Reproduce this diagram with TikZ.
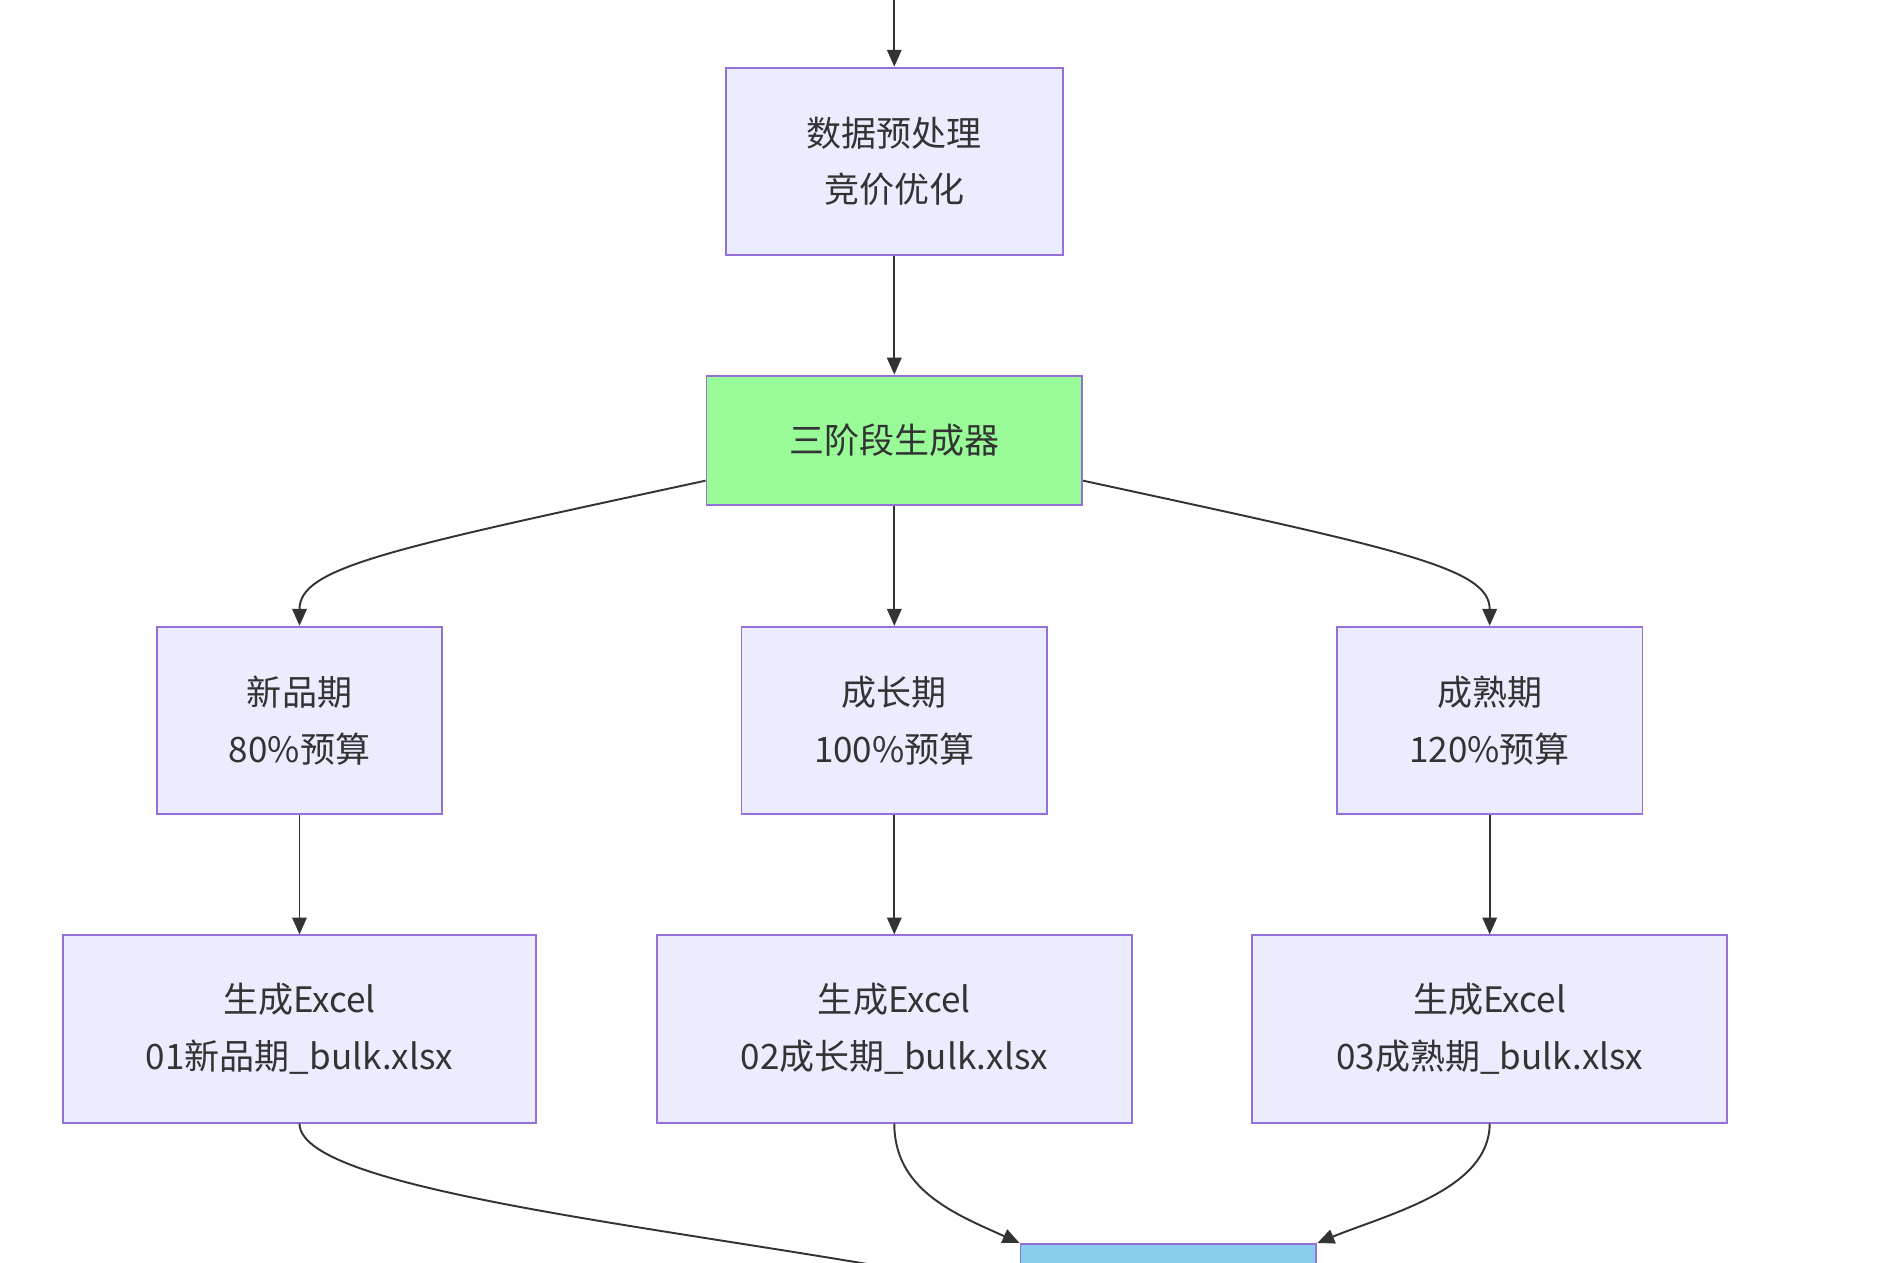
\documentclass[tikz,border=0pt]{standalone}
\usepackage{fontspec}
\newfontfamily\cjk{Noto Sans CJK SC}
\usetikzlibrary{arrows.meta}
\definecolor{nfill}{HTML}{ECECFF}
\definecolor{nstroke}{HTML}{9370DB}
\definecolor{gfill}{HTML}{98FB98}
\definecolor{bfill}{HTML}{87CEEB}
\definecolor{lc}{HTML}{333333}
\begin{document}
\begin{tikzpicture}[x=1pt,y=-1pt,
  box/.style={draw=nstroke,fill=nfill,line width=1.6pt,inner sep=0pt,align=center,
    font=\cjk\fontsize{29}{47}\selectfont,text=lc},
  conn/.style={draw=lc,line width=1.6pt,-{Triangle[length=14pt,width=12pt]}}]
\useasboundingbox (0,0) rectangle (1560,1045);
\clip (0,0) rectangle (1560,1045);
\node[box,minimum width=279pt,minimum height=155pt] (pre) at (740.5,133.5) {数据预处理\\竞价优化};
\node[box,fill=gfill,minimum width=311pt,minimum height=107pt] (gen) at (740.5,364.5) {三阶段生成器};
\node[box,minimum width=236pt,minimum height=155pt] (s1) at (248,596.5) {新品期\\80\%预算};
\node[box,minimum width=253pt,minimum height=155pt] (s2) at (740.5,596.5) {成长期\\100\%预算};
\node[box,minimum width=253pt,minimum height=155pt] (s3) at (1233.5,596.5) {成熟期\\120\%预算};
\node[box,minimum width=392pt,minimum height=155pt] (e1) at (248,852) {生成Excel\\01新品期\_bulk.xlsx};
\node[box,minimum width=393pt,minimum height=155pt] (e2) at (740.5,852) {生成Excel\\02成长期\_bulk.xlsx};
\node[box,minimum width=393pt,minimum height=155pt] (e3) at (1233.5,852) {生成Excel\\03成熟期\_bulk.xlsx};
\node[box,fill=bfill,minimum width=245pt,minimum height=80pt] (out) at (967.5,1070) {};
\coordinate (top) at (740.5,-10);
\draw[conn] (top) -- (pre.north);
\draw[conn] (pre.south) -- (gen.north);
\draw[conn] (gen.south) -- (s2.north);
\draw[conn] (gen.west|-0,398) .. controls (320,455) and (248,470) .. (s1.north);
\draw[conn] (gen.east|-0,398) .. controls (1160,455) and (1233.5,470) .. (s3.north);
\draw[conn] (s1.south) -- (e1.north);
\draw[conn] (s2.south) -- (e2.north);
\draw[conn] (s3.south) -- (e3.north);
\draw[conn] (e1.south) .. controls (248,990) and (600,1020) .. (out.west);
\draw[conn] (e2.south) .. controls (740.5,985) and (790,1005) .. (out.north west);
\draw[conn] (e3.south) .. controls (1233.5,985) and (1150,1005) .. (out.north east);
\end{tikzpicture}
\end{document}
